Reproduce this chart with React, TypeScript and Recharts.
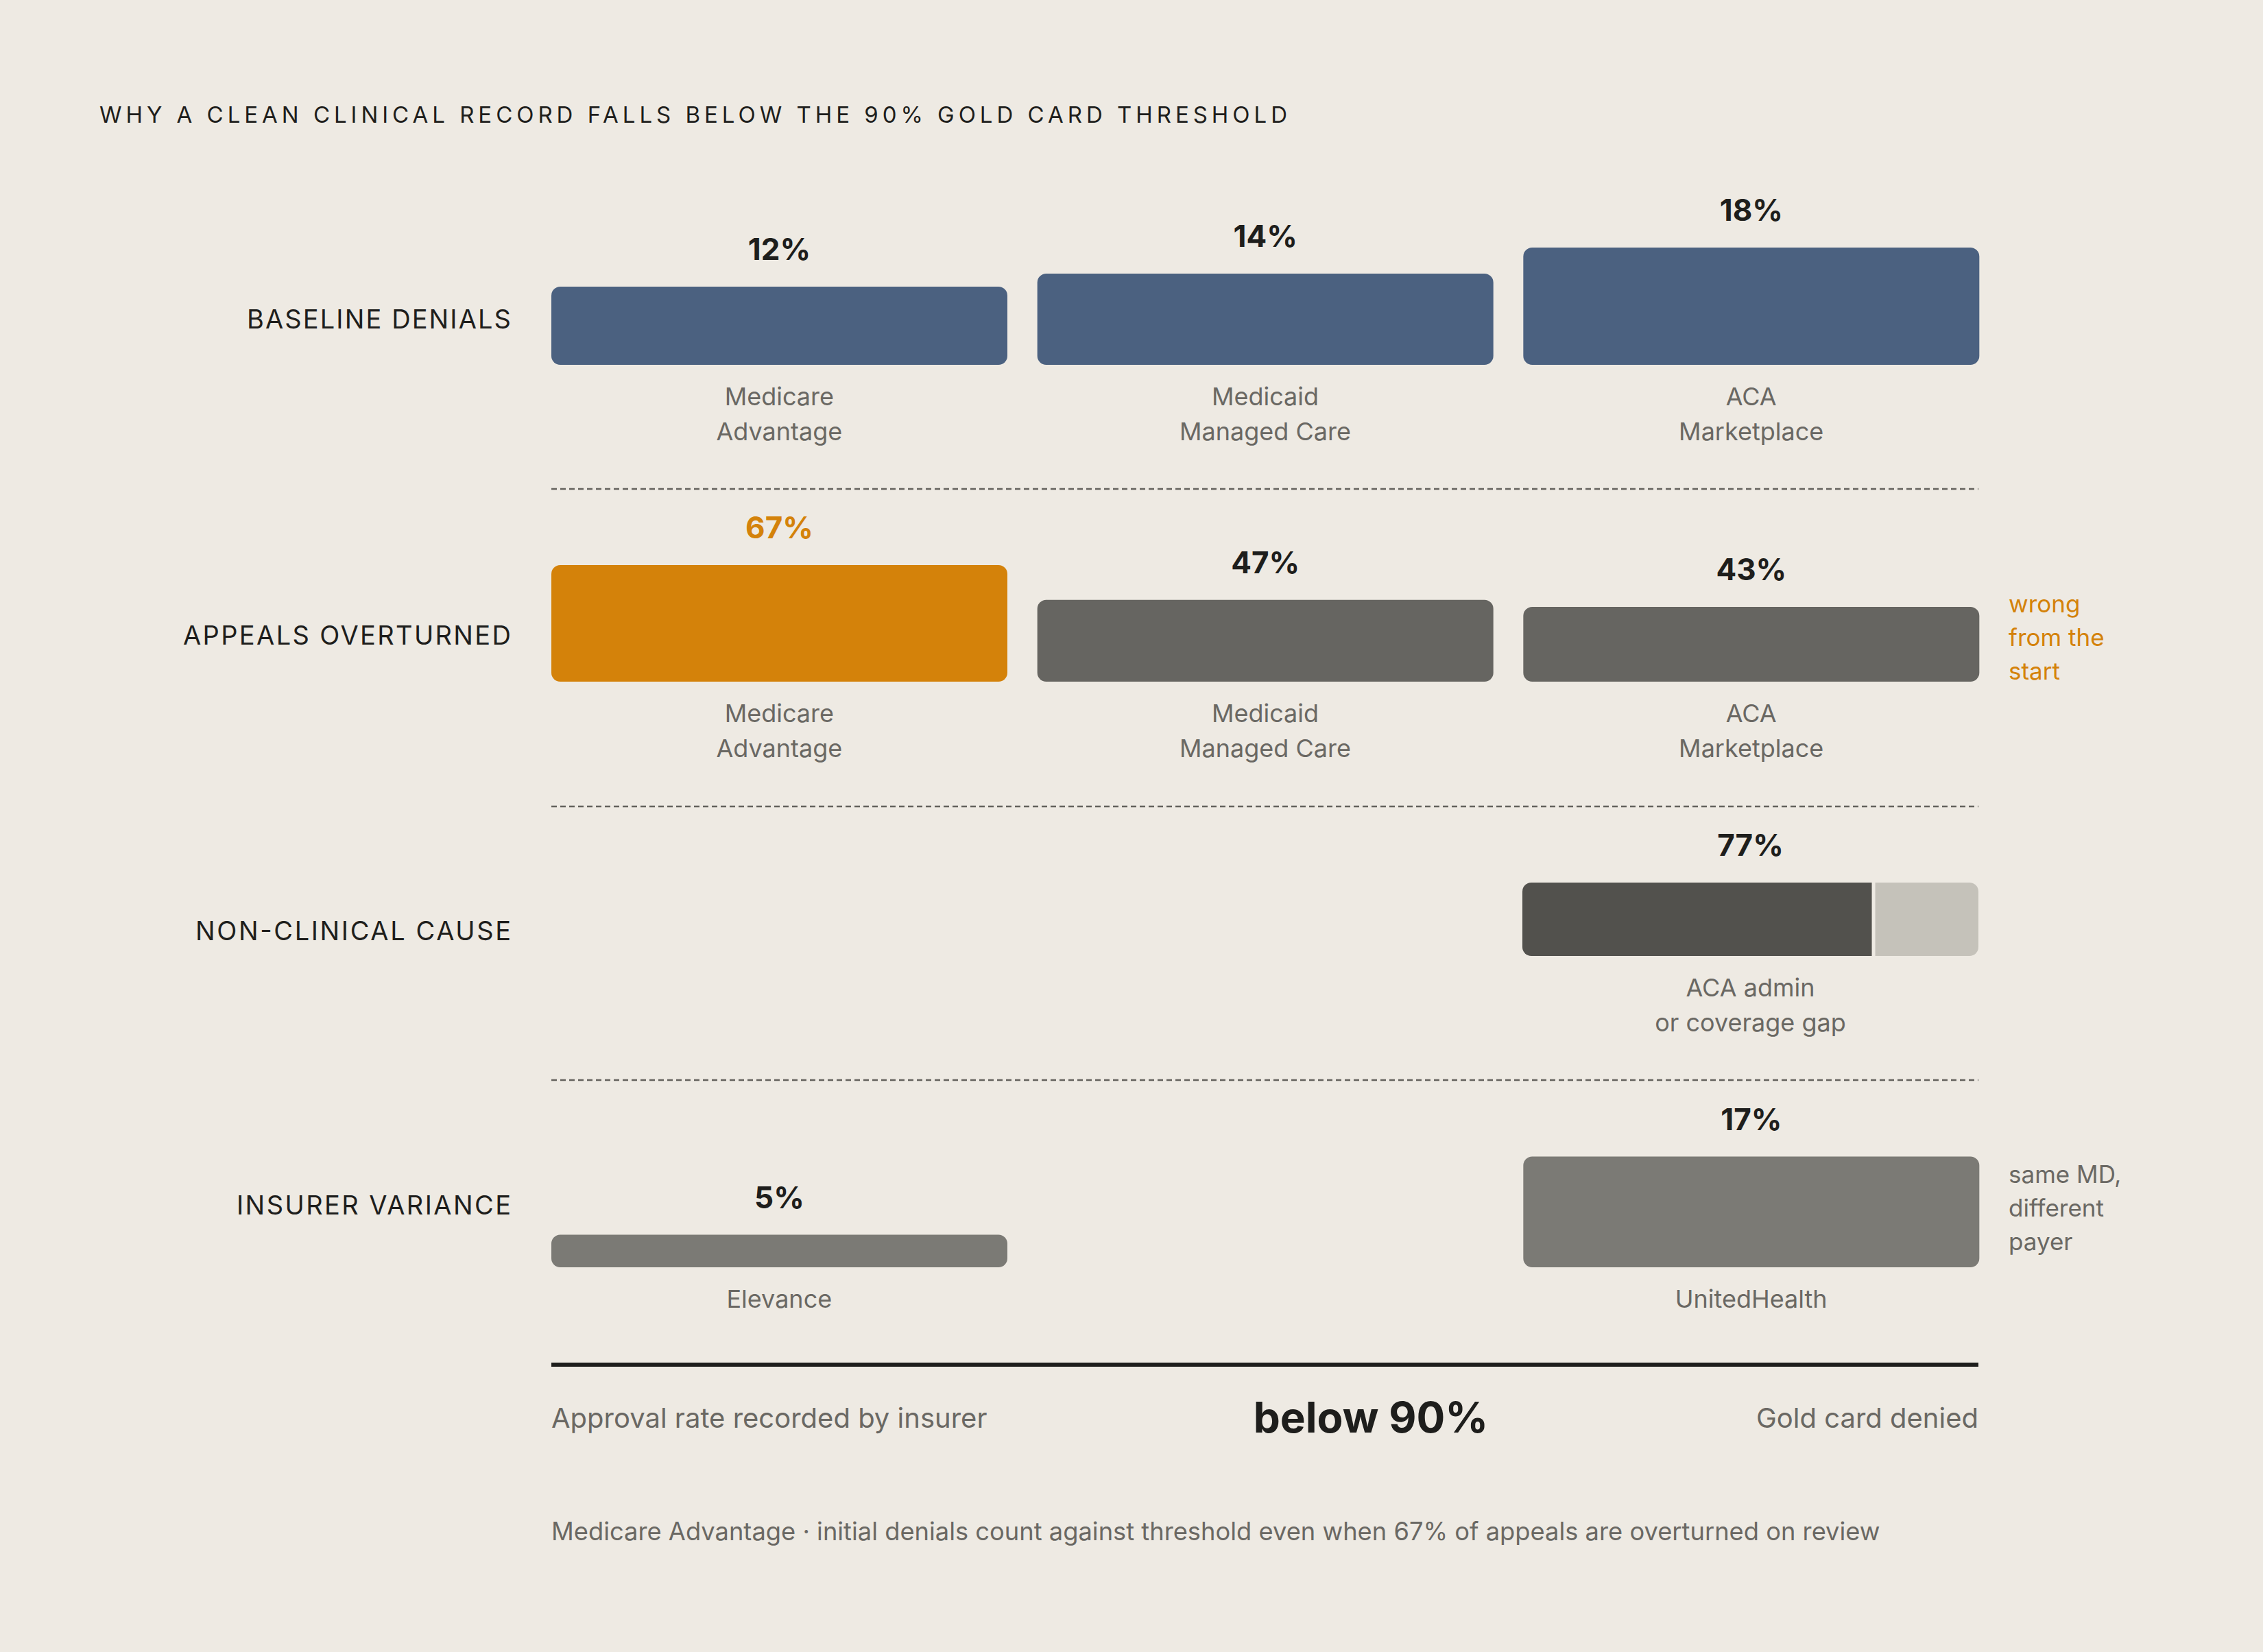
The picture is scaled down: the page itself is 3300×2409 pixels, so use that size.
import React from 'react';
import { BarChart, Bar, XAxis, YAxis, LabelList, Cell, ReferenceLine } from 'recharts';

// ---- data ----
const payers = ['Medicare\nAdvantage', 'Medicaid\nManaged Care', 'ACA\nMarketplace'];
const baselineDenials = [12, 14, 18];
const appealsOverturned = [67, 47, 43];
const nonClinicalLabel = 'ACA admin\nor coverage gap';
const nonClinicalAdmin = 77;
const nonClinicalOther = 23;
const insurers = ['Elevance', '', 'UnitedHealth'];
const insurerVariance = [5, null, 17];

const rowLabels = ['BASELINE DENIALS', 'APPEALS OVERTURNED', 'NON-CLINICAL CAUSE', 'INSURER VARIANCE'];
const title = 'WHY A CLEAN CLINICAL RECORD FALLS BELOW THE 90% GOLD CARD THRESHOLD';
const appealsNote = ['wrong', 'from the', 'start'];
const insurerNote = ['same MD,', 'different', 'payer'];
const footerLeft = 'Approval rate recorded by insurer';
const footerMid = 'below 90%';
const footerRight = 'Gold card denied';
const footnote =
  'Medicare Advantage · initial denials count against threshold even when 67% of appeals are overturned on review';

// ---- colours ----
const BG = '#EEEAE3';
const INK = '#1E1E1C';
const MUTED = '#6A6863';
const BLUE = '#4B6180';
const ORANGE = '#D4820A';
const GREY = '#666561';
const DARK = '#52514D';
const LIGHT = '#C5C2BA';
const MID = '#7B7A75';
const FONT = 'Inter, "Noto Sans", sans-serif';

const W = 3300;
const H = 2409;
const PLOT_LEFT = 782;
const PLOT_RIGHT = 392;
const BAR_W = 665;

const baselineData = payers.map((name, i) => ({ name, value: baselineDenials[i] }));
const appealsData = payers.map((name, i) => ({ name, value: appealsOverturned[i] }));
const insurerData = insurers.map((name, i) => ({ name, value: insurerVariance[i] }));
const nonClinicalData = [{ name: nonClinicalLabel, admin: nonClinicalAdmin, other: nonClinicalOther }];

const CategoryTick = (props: any) => {
  const { x, y, payload } = props;
  const lines = String(payload?.value ?? '').split('\n').filter((l) => l);
  return (
    <g>
      {lines.map((l, i) => (
        <text key={i} x={x} y={y + 59 + i * 51} textAnchor="middle" fontSize={36} fill={MUTED} fontFamily={FONT}>
          {l}
        </text>
      ))}
    </g>
  );
};

const valueLabel = (colors: string[]) => (props: any) => {
  const vb = props.viewBox ?? props;
  const { value, index } = props;
  if (value == null || vb == null) return null;
  return (
    <text
      x={vb.x + vb.width / 2}
      y={vb.y - 39}
      textAnchor="middle"
      fontSize={44}
      fontWeight={700}
      fill={colors[index] ?? INK}
      fontFamily={FONT}
    >
      {value}%
    </text>
  );
};

function RowChart({ data, max, plotTop, baseline, fills, labelColors }: any) {
  const top = plotTop - 100;
  const height = baseline + 150 - top;
  return (
    <div style={{ position: 'absolute', left: 0, top }}>
      <BarChart
        width={W}
        height={height}
        data={data}
        margin={{ top: 100, right: PLOT_RIGHT, left: PLOT_LEFT, bottom: 0 }}
        barSize={BAR_W}
      >
        <XAxis
          dataKey="name"
          height={150}
          axisLine={false}
          tickLine={false}
          tickSize={0}
          tickMargin={0}
          interval={0}
          tick={<CategoryTick />}
        />
        <YAxis hide domain={[0, max]} />
        <Bar dataKey="value" radius={13} isAnimationActive={false}>
          {data.map((_: any, i: number) => (
            <Cell key={i} fill={fills[i]} />
          ))}
          <LabelList dataKey="value" content={valueLabel(labelColors)} />
        </Bar>
      </BarChart>
    </div>
  );
}

const NonClinicalLabel = (props: any) => {
  const vb = props.viewBox ?? props;
  if (!vb) return null;
  const fullW = (vb.width * (nonClinicalAdmin + nonClinicalOther)) / nonClinicalAdmin;
  const cx = vb.x + fullW / 2;
  const bottom = vb.y + vb.height;
  return (
    <g fontFamily={FONT}>
      <text x={cx} y={vb.y - 39} textAnchor="middle" fontSize={44} fontWeight={700} fill={INK}>
        {nonClinicalAdmin}%
      </text>
      {nonClinicalLabel.split('\n').map((l, i) => (
        <text key={i} x={cx} y={bottom + 59 + i * 51} textAnchor="middle" fontSize={36} fill={MUTED}>
          {l}
        </text>
      ))}
    </g>
  );
};

function NonClinicalChart() {
  // plot area 2220..2885 x 1287..1394
  const top = 1180;
  return (
    <div style={{ position: 'absolute', left: 0, top }}>
      <BarChart
        width={W}
        height={360}
        data={nonClinicalData}
        layout="vertical"
        margin={{ top: 1287 - top, right: W - 2885, left: 2220, bottom: 360 - (1394 - top) }}
        barCategoryGap={0}
      >
        <XAxis type="number" hide domain={[0, 100]} />
        <YAxis type="category" dataKey="name" hide />
        <Bar dataKey="admin" stackId="s" fill={DARK} radius={[13, 0, 0, 13]} isAnimationActive={false}>
          <LabelList dataKey="admin" content={<NonClinicalLabel />} />
        </Bar>
        <Bar dataKey="other" stackId="s" fill={LIGHT} radius={[0, 13, 13, 0]} isAnimationActive={false} />
        <ReferenceLine x={nonClinicalAdmin} stroke={BG} strokeWidth={5} />
      </BarChart>
    </div>
  );
}

export default function App() {
  const x0 = 804;
  const x1 = 2885;
  return (
    <div
      style={{
        position: 'absolute',
        left: 0,
        top: 0,
        width: W,
        height: H,
        background: BG,
        fontFamily: FONT,
        overflow: 'hidden',
      }}
    >
      <svg width={W} height={H} style={{ position: 'absolute', left: 0, top: 0 }} fontFamily={FONT}>
        <text x={145} y={179} fontSize={33} fill={INK} textLength={1732} lengthAdjust="spacing">
          {title}
        </text>

        {/* row labels */}
        {[
          [479, 385],
          [940, 478],
          [1371, 460],
          [1771, 400],
        ].map(([y, len], i) => (
          <text key={i} x={745} y={y} fontSize={38} fill={INK} textAnchor="end" textLength={len} lengthAdjust="spacing">
            {rowLabels[i]}
          </text>
        ))}

        {/* separators */}
        {[713, 1176, 1575].map((y) => (
          <line key={y} x1={x0} x2={x1} y1={y} y2={y} stroke="#64625D" strokeWidth={2.5} strokeDasharray="8 5" />
        ))}

        {/* side notes */}
        {appealsNote.map((l, i) => (
          <text key={l} x={2929} y={893 + i * 49} fontSize={35} fill={ORANGE}>
            {l}
          </text>
        ))}
        {insurerNote.map((l, i) => (
          <text key={l} x={2929} y={1725 + i * 49} fontSize={35} fill={MUTED}>
            {l}
          </text>
        ))}

        {/* threshold rule and footer */}
        <line x1={x0} x2={x1} y1={1990} y2={1990} stroke={INK} strokeWidth={6} />
        <text x={x0} y={2082} fontSize={40} fill={MUTED}>
          {footerLeft}
        </text>
        <text x={1999} y={2089} fontSize={62} fontWeight={700} fill={INK} textAnchor="middle">
          {footerMid}
        </text>
        <text x={x1} y={2082} fontSize={40} fill={MUTED} textAnchor="end">
          {footerRight}
        </text>
        <text x={x0} y={2246} fontSize={36.3} fill={MUTED}>
          {footnote}
        </text>
      </svg>

      <RowChart
        data={baselineData}
        max={18}
        plotTop={361}
        baseline={532}
        fills={[BLUE, BLUE, BLUE]}
        labelColors={[INK, INK, INK]}
      />
      <RowChart
        data={appealsData}
        max={67}
        plotTop={824}
        baseline={994}
        fills={[ORANGE, GREY, GREY]}
        labelColors={[ORANGE, INK, INK]}
      />
      <NonClinicalChart />
      <RowChart
        data={insurerData}
        max={18}
        plotTop={1677}
        baseline={1848}
        fills={[MID, MID, MID]}
        labelColors={[INK, INK, INK]}
      />
    </div>
  );
}
